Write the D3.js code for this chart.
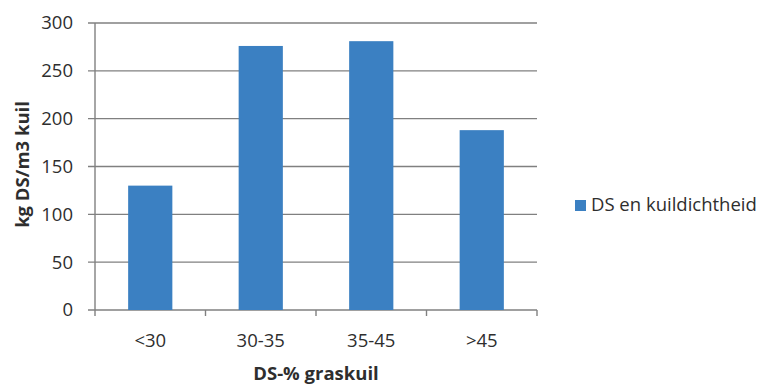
<!DOCTYPE html>
<html>
<head>
<meta charset="utf-8">
<script src="https://cdn.jsdelivr.net/npm/d3@7"></script>
<style>
  body { margin: 0; background: #fff; }
  text { font-family: "Open Sans", sans-serif; fill: #2e2e2e; }
</style>
</head>
<body>
<svg id="chart" width="768" height="385"></svg>
<script>
// data
const categories = ["<30", "30-35", "35-45", ">45"];
const values = [130, 276, 281, 188];
const yTicks = [0, 50, 100, 150, 200, 250, 300];
const seriesName = "DS en kuildichtheid";

const svg = d3.select("#chart");
const margin = { left: 95, right: 231, top: 23, bottom: 75 };
const width = 768 - margin.left - margin.right;
const height = 385 - margin.top - margin.bottom;

const g = svg.append("g").attr("transform", `translate(${margin.left},${margin.top})`);

let x = d3.scaleBand().domain(categories).range([0, width]).paddingInner(0.6).paddingOuter(0.3);
let y = d3.scaleLinear().domain([0, 300]).range([height, 0]);

// gridlines + y tick marks
g.selectAll(".grid")
  .data(yTicks)
  .join("line")
  .attr("x1", -7)
  .attr("x2", width)
  .attr("y1", (d) => y(d))
  .attr("y2", (d) => y(d))
  .attr("stroke", "#808080")
  .attr("stroke-width", 1.4);

// y axis line
g.append("line").attr("x1", 0).attr("x2", 0).attr("y1", 0).attr("y2", height)
  .attr("stroke", "#808080").attr("stroke-width", 1.4);

// y labels
g.selectAll(".ylab")
  .data(yTicks)
  .join("text")
  .attr("x", -22)
  .attr("y", (d) => y(d))
  .attr("dy", "0.35em")
  .attr("text-anchor", "end")
  .attr("font-size", 18.5)
  .text((d) => d);

// bars
g.selectAll(".bar")
  .data(values)
  .join("rect")
  .attr("x", (d, i) => x(categories[i]))
  .attr("width", x.bandwidth())
  .attr("y", (d) => y(d))
  .attr("height", (d) => height - y(d))
  .attr("fill", "#3b80c2");

// x tick marks at category boundaries
let step = x.step();
let bounds = d3.range(categories.length + 1).map((i) => i * step);
g.selectAll(".xtick")
  .data(bounds)
  .join("line")
  .attr("x1", (d) => d)
  .attr("x2", (d) => d)
  .attr("y1", height)
  .attr("y2", height + 6)
  .attr("stroke", "#808080")
  .attr("stroke-width", 1.4);

// x labels
g.selectAll(".xlab")
  .data(categories)
  .join("text")
  .attr("x", (d) => x(d) + x.bandwidth() / 2)
  .attr("y", height + 37)
  .attr("text-anchor", "middle")
  .attr("font-size", 18.5)
  .text((d) => d);

// axis titles
g.append("text")
  .attr("x", width / 2)
  .attr("y", height + 70)
  .attr("text-anchor", "middle")
  .attr("font-size", 18.5)
  .attr("font-weight", "bold")
  .text("DS-% graskuil");

svg.append("text")
  .attr("transform", `translate(29,${margin.top + height / 2 - 2}) rotate(-90)`)
  .attr("text-anchor", "middle")
  .attr("font-size", 18.5)
  .attr("font-weight", "bold")
  .text("kg DS/m3 kuil");

// legend
let legend = svg.append("g").attr("transform", "translate(575,205)");
legend.append("rect").attr("x", 0).attr("y", -5).attr("width", 11).attr("height", 11).attr("fill", "#3b80c2");
legend.append("text").attr("x", 16).attr("y", 0).attr("dy", "0.35em").attr("font-size", 18.5).text(seriesName);
</script>
</body>
</html>
